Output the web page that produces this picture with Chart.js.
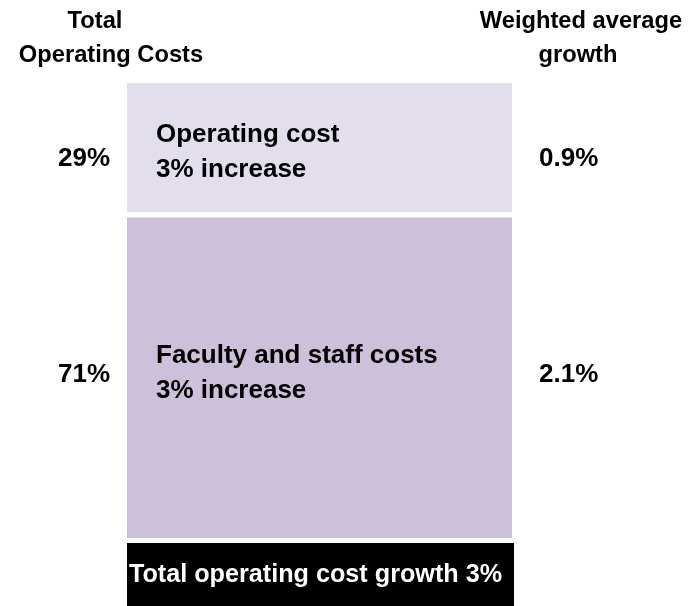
<!DOCTYPE html>
<html>
<head>
<meta charset="utf-8">
<title>Operating cost growth</title>
<script src="https://cdn.jsdelivr.net/npm/chart.js@4/dist/chart.umd.min.js"></script>
<style>
  html, body { margin: 0; padding: 0; background: #fff; }
  #costChart { display: block; }
</style>
</head>
<body>
<canvas id="costChart" width="690" height="606"></canvas>
<script>
// chart values (bottom segment first, as they stack)
const categories = ["Total Operating Costs"];
const segmentNames = ["Faculty and staff costs", "Operating cost"];
const shareOfCosts = [71, 29];      // % of total operating costs
const costIncrease = [3, 3];        // % increase per segment
const weightedGrowth = [2.1, 0.9];  // weighted average growth, %
const totalGrowth = 3;
const headers = [["Total", "Operating Costs"], ["Weighted average", "growth"]];

const segmentColors = ["#CCC0DB", "#E2DEEC"];
const FONT = '"Liberation Sans", Arial, sans-serif';

// baseline offsets from each segment's centre: [line1, line2, side labels]
const textNudge = [[-13.5, 21.5, 5.5], [-7, 28, 17]];

const labelPlugin = {
  id: "costLabels",
  afterDatasetsDraw(chart) {
    const ctx = chart.ctx;
    const area = chart.chartArea;
    ctx.save();
    ctx.textBaseline = "alphabetic";

    // column headers
    ctx.fillStyle = "#000";
    ctx.font = "bold 23.7px " + FONT;
    ctx.textAlign = "center";
    ctx.fillText(headers[0][0], 95, 28);
    ctx.fillText(headers[0][1], 111, 62);
    ctx.fillText(headers[1][0], 581, 28);
    ctx.fillText(headers[1][1], 578, 62);

    let left = 0, right = 0;
    chart.data.datasets.forEach((ds, i) => {
      const bar = chart.getDatasetMeta(i).data[0];
      left = bar.x - bar.width / 2;
      right = bar.x + bar.width / 2;
      const mid = (bar.y + bar.base) / 2;
      const nudge = textNudge[i];

      ctx.font = "bold 26px " + FONT;
      ctx.fillStyle = "#000";
      ctx.textAlign = "left";
      ctx.fillText(segmentNames[i], left + 29, mid + nudge[0]);
      ctx.fillText(costIncrease[i] + "% increase", left + 29, mid + nudge[1]);

      ctx.textAlign = "right";
      ctx.fillText(shareOfCosts[i] + "%", left - 17, mid + nudge[2]);
      ctx.textAlign = "left";
      ctx.fillText(weightedGrowth[i].toFixed(1) + "%", right + 27, mid + nudge[2]);
    });

    // total growth box under the bar
    const boxTop = area.bottom + 5;
    const boxBottom = chart.height;
    ctx.fillStyle = "#000";
    ctx.fillRect(left, boxTop, right - left + 2, boxBottom - boxTop);
    ctx.fillStyle = "#fff";
    ctx.font = "bold 25.2px " + FONT;
    ctx.textAlign = "center";
    ctx.fillText("Total operating cost growth " + totalGrowth + "%", (left + right) / 2 - 4, boxTop + 39);

    ctx.restore();
  }
};

new Chart(document.getElementById("costChart"), {
  type: "bar",
  data: {
    labels: categories,
    datasets: [
      {
        label: segmentNames[0],
        data: [shareOfCosts[0]],
        backgroundColor: segmentColors[0],
        borderColor: "#fff",
        borderWidth: { top: 3, bottom: 0, left: 0, right: 0 },
        borderSkipped: false,
      },
      {
        label: segmentNames[1],
        data: [shareOfCosts[1]],
        backgroundColor: segmentColors[1],
        borderColor: "#fff",
        borderWidth: { top: 0, bottom: 3, left: 0, right: 0 },
        borderSkipped: false,
      },
    ],
  },
  options: {
    responsive: false,
    animation: false,
    devicePixelRatio: 1,
    layout: { padding: { left: 127, right: 178, top: 83, bottom: 68 } },
    datasets: { bar: { barPercentage: 1, categoryPercentage: 1 } },
    scales: {
      x: { display: false, stacked: true },
      y: { display: false, stacked: true, min: 0, max: 100 },
    },
    plugins: {
      legend: { display: false },
      tooltip: { enabled: false },
    },
  },
  plugins: [labelPlugin],
});
</script>
</body>
</html>
